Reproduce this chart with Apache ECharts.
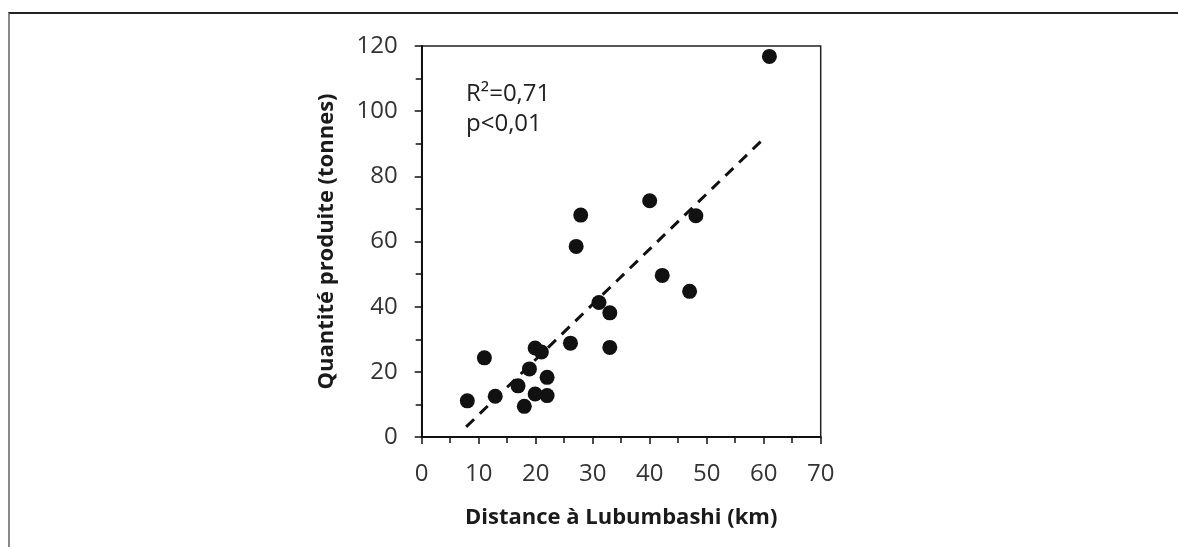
<!DOCTYPE html>
<html>
<head>
<meta charset="utf-8">
<script src="https://cdn.jsdelivr.net/npm/echarts@6/dist/echarts.min.js"></script>
<style>
html,body{margin:0;padding:0;background:#fff;}
#frame{position:absolute;left:8px;top:12px;right:0;bottom:0;border-top:2px solid #222;border-left:2px solid #888;}
#chart{position:absolute;left:0;top:0;width:1178px;height:547px;}
</style>
</head>
<body>
<div id="frame"></div>
<div id="chart"></div>
<script>
const distanceKm = [61.0, 8.0, 11.0, 12.9, 16.9, 18.0, 18.9, 19.9, 21.0, 19.9, 22.0, 22.0, 26.1, 27.1, 27.9, 31.1, 33.0, 33.0, 40.0, 42.2, 47.0, 48.1];
const quantiteTonnes = [116.8, 11.1, 24.3, 12.5, 15.7, 9.4, 20.9, 27.3, 26.1, 13.2, 18.3, 12.7, 28.8, 58.5, 68.1, 41.3, 38.1, 27.5, 72.5, 49.6, 44.7, 67.9];
const fitX = [7.8, 59.9];
const fitY = [3.1, 91.4];
const statsLines = ['R²=0,71', 'p<0,01'];
const xTitle = 'Distance à Lubumbashi (km)';
const yTitle = 'Quantité produite (tonnes)';

const points = distanceKm.map((x, i) => [x, quantiteTonnes[i]]);
const fitLine = fitX.map((x, i) => [x, fitY[i]]);

const chart = echarts.init(document.getElementById('chart'), null, {renderer: 'canvas'});
const fontFam = '"Open Sans", "Noto Sans", sans-serif';
const axisCommon = {
  axisLine: {show: true, lineStyle: {color: '#111', width: 2}},
  axisTick: {show: true, inside: false, length: 7, lineStyle: {color: '#111', width: 1.5}},
  minorTick: {show: true, splitNumber: 2, length: 6, lineStyle: {color: '#111', width: 1.5}},
  splitLine: {show: false},
  axisLabel: {color: '#333', fontSize: 24, fontFamily: fontFam, fontWeight: 'normal'},
  nameTextStyle: {color: '#1a1a1a', fontSize: 22, fontWeight: 'bold', fontFamily: fontFam}
};
chart.setOption({
  animation: false,
  grid: {left: 421.7, right: 357.3, top: 46, bottom: 110, show: true, borderColor: '#222', borderWidth: 1.5, backgroundColor: 'transparent'},
  title: {
    text: statsLines.join('\n'),
    left: 461, top: 74,
    textStyle: {color: '#222', fontSize: 24, fontWeight: 'normal', fontFamily: fontFam, lineHeight: 30}
  },
  xAxis: Object.assign({}, axisCommon, {
    type: 'value', min: 0, max: 70, interval: 10,
    name: xTitle, nameLocation: 'middle', nameGap: 70,
    axisLabel: Object.assign({}, axisCommon.axisLabel, {margin: 25})
  }),
  yAxis: Object.assign({}, axisCommon, {
    type: 'value', min: 0, max: 120, interval: 20,
    name: yTitle, nameLocation: 'middle', nameGap: 84, nameRotate: 90,
    axisLabel: Object.assign({}, axisCommon.axisLabel, {margin: 24})
  }),
  series: [
    {
      type: 'line', data: fitLine, symbol: 'none', silent: true,
      lineStyle: {color: '#111', width: 3, type: [11, 8]}, z: 1
    },
    {
      type: 'scatter', data: points, symbol: 'circle', symbolSize: 15,
      itemStyle: {color: '#111', opacity: 1}, z: 2
    }
  ]
});
</script>
</body>
</html>
